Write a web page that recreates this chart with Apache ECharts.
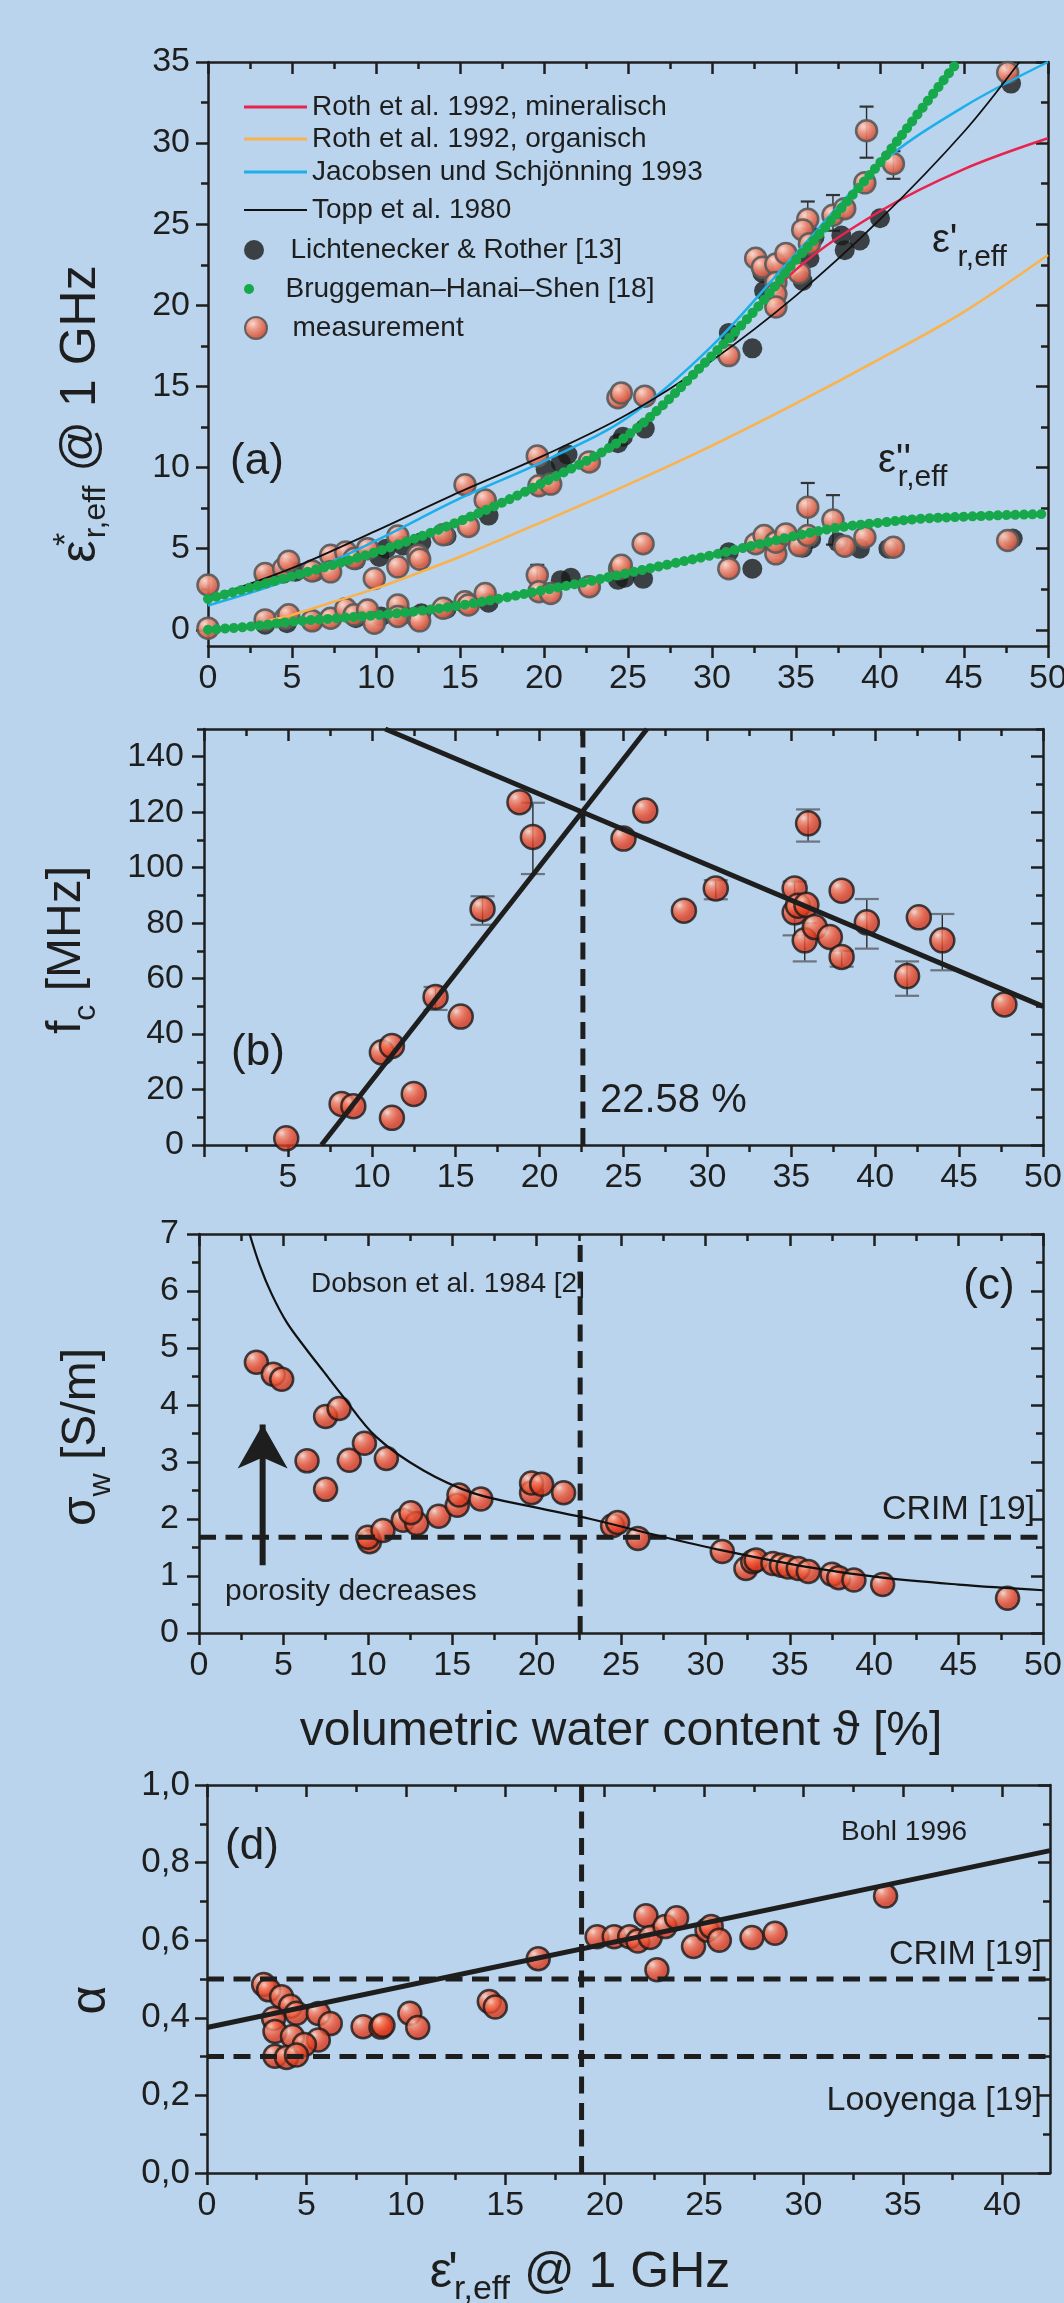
<!DOCTYPE html>
<html><head><meta charset="utf-8">
<script src="https://cdn.jsdelivr.net/npm/echarts@6/dist/echarts.min.js"></script>
<style>html,body{margin:0;padding:0;background:#b9d4ec;}#c{width:1064px;height:2303px;}</style>
</head><body><div id="c"></div>
<script>
// ---------------- panel (a) data ----------------
const aXTickLabels = [0,5,10,15,20,25,30,35,40,45,50];
const aXMinorTicks = [2.5,7.5,12.5,17.5,22.5,27.5,32.5,37.5,42.5,47.5];
const aYTickLabels = [0,5,10,15,20,25,30,35];
const aYMinorTicks = [2.5,7.5,12.5,17.5,22.5,27.5,32.5];

const rothMineral = [[0,1.8],[5,3.2],[10,4.8],[15,6.7],[20,9.2],[25,11.9],[30,16.8],[35,22.2],[40,25.8],[45,28.4],[50,30.3]];
const rothOrganic = [[3.5,0.55],[5,0.92],[7.5,1.73],[10,2.55],[12.5,3.5],[15,4.5],[20,6.7],[25,8.95],[30,11.35],[35,13.95],[40,16.7],[45,19.6],[50,23.1]];
const jacobsen = [[0,1.5],[5,3.15],[10,5.5],[15,8.1],[20,10.4],[25,13.1],[30,17.5],[35,23.2],[40,28.7],[45,32.25],[50,35.0]];
const topp = [[0,1.95],[5,3.8],[10,6.1],[15,8.5],[20,10.75],[25,13.3],[30,16.6],[35,20.6],[40,25.3],[45,30.7],[48.3,35]];
const bhsReal = [[0,1.9],[5,3.3],[10,4.8],[15,6.7],[20,9.1],[25,12.0],[30,16.9],[32.9,20.1],[35,22.8],[36.4,24.4],[38.4,26.85],[40.4,29.3],[42.4,32.0],[44.5,34.85]];
const bhsImag = [[0,0],[2.5,0.2],[5,0.5],[7.5,0.7],[10,0.9],[12.5,1.15],[15,1.5],[17.5,1.95],[20,2.45],[22.5,2.95],[25,3.5],[27.5,4.05],[30,4.6],[32.5,5.2],[35,5.8],[37.5,6.3],[40,6.6],[42.5,6.85],[45,6.97],[47.5,7.07],[50,7.14]];

const lrReal = [[3.4,3.16],[4.5,3.47],[5.2,3.57],[6.35,3.57],[8.8,4.29],[10.2,4.49],[10.6,5.0],[11.6,5.2],[12.7,5.4],[14.2,5.78],[16.7,7.04],[20.1,9.9],[21.0,10.3],[21.4,10.8],[24.4,11.5],[24.7,11.9],[26.0,12.4],[31.0,18.3],[32.4,17.35],[33.0,22.0],[33.1,20.9],[35.4,21.5],[35.8,22.9],[36.1,24.2],[37.7,24.3],[37.9,23.4],[38.8,24.0],[40.0,25.37],[47.8,33.67]];
const lrImag = [[3.4,0.31],[4.7,0.41],[6.25,0.51],[8.8,0.71],[10.3,0.82],[11.6,0.92],[12.7,1.02],[14.2,1.29],[15.4,1.53],[16.7,1.67],[21.0,3.06],[21.6,3.2],[24.4,3.08],[24.8,3.2],[25.9,3.14],[31.0,4.78],[32.4,3.76],[33.2,5.6],[33.8,5.1],[35.4,5.05],[35.9,5.6],[37.5,5.4],[38.8,5.0],[40.5,5.0],[47.9,5.63]];

const measReal = [[0,2.76],[3.4,3.47],[4.5,3.78],[4.8,4.22],[6.2,3.63],[7.3,4.59],[7.3,3.57],[8.2,4.8],[8.7,4.39],[9.5,5.0],[9.9,3.16],[11.3,5.78],[11.3,3.88],[12.5,4.59],[12.6,4.35],[14.0,5.86],[15.3,8.94],[15.5,6.37],[16.5,8.0],[19.6,10.71],[19.7,8.88],[20.4,8.98],[22.7,10.35],[24.4,14.3],[24.6,14.6],[26.0,14.4],[31.0,16.9],[32.6,22.9],[33.0,22.35],[33.8,22.55],[34.4,23.2],[35.2,22.0],[33.8,21.4],[33.8,20.7],[33.8,19.9],[35.7,25.3],[35.4,24.65],[35.8,23.8],[37.2,25.55],[37.9,25.96],[39.1,27.55],[39.2,30.76],[40.8,28.73],[47.6,34.35]];
const measImag = [[0,0.1],[3.4,0.61],[4.6,0.71],[4.8,0.92],[6.2,0.55],[7.3,0.71],[8.2,1.29],[8.7,0.92],[9.5,1.22],[9.9,0.41],[11.3,1.53],[11.3,0.82],[12.5,0.71],[12.6,0.55],[14.0,1.33],[15.3,1.73],[15.5,1.53],[16.5,2.24],[19.6,3.37],[19.7,2.35],[20.4,2.24],[22.7,2.65],[24.5,3.78],[24.6,3.98],[25.9,5.3],[31.0,3.76],[32.6,5.3],[33.1,5.81],[33.8,4.68],[33.8,5.4],[34.4,5.91],[35.2,5.19],[35.7,7.55],[35.7,5.81],[37.2,6.77],[37.9,5.15],[39.1,5.7],[40.8,5.09],[47.6,5.5]];
const measRealErr = [[39.2,29.1,32.25],[40.8,27.8,29.5],[35.7,24.3,26.4],[37.2,24.6,26.8]];
const measImagErr = [[35.7,6.05,9.05],[37.2,5.25,8.3],[19.6,2.75,4.0]];

// ---------------- panel (b) data ----------------
const bXTickLabels = [5,10,15,20,25,30,35,40,45,50];
const bXMajorTicks = [0,5,10,15,20,25,30,35,40,45,50];
const bXMinorTicks = [2.5,7.5,12.5,17.5,22.5,27.5,32.5,37.5,42.5,47.5];
const bYTickLabels = [0,20,40,60,80,100,120,140];
const bYMinorTicks = [10,30,50,70,90,110,130,150];
const fcPoints = [[4.9,2.4],[8.2,14.8],[8.9,14.0],[11.2,9.8],[10.6,33.4],[11.2,35.7],[12.5,18.4],[13.8,53.4],[15.3,46.3],[16.6,85.1],[18.8,123.6],[19.6,111.1],[25.0,110.5],[26.3,120.6],[28.6,84.5],[30.5,92.5],[35.2,92.5],[35.2,83.9],[35.4,86.3],[35.9,86.6],[35.8,73.8],[36.0,116.0],[36.4,78.6],[37.3,75.0],[38.0,91.7],[38.0,67.8],[39.5,80.3],[41.9,60.9],[42.6,82.1],[44.0,73.8],[47.7,50.7]];
const fcErr = [[13.8,48.7,57.0],[16.6,79.4,89.7],[19.6,97.7,123.4],[30.5,88.6,95.5],[35.2,75.6,95.0],[35.8,66.2,80.0],[36.0,109.4,121.0],[38.0,64.3,70.0],[39.5,70.8,88.7],[41.9,53.8,66.2],[44.0,63.0,83.3]];
const fcRiseFit = [[7.0,0],[26.4,150]];
const fcFallFit = [[10.8,150],[50,50]];
const fcBreak = 22.58;

// ---------------- panel (c) data ----------------
const cXTickLabels = [0,5,10,15,20,25,30,35,40,45,50];
const cXMinorTicks = [2.5,7.5,12.5,17.5,22.5,27.5,32.5,37.5,42.5,47.5];
const cYTickLabels = [0,1,2,3,4,5,6,7];
const cYMinorTicks = [0.5,1.5,2.5,3.5,4.5,5.5,6.5];
const sigmaPoints = [[3.4,4.75],[4.4,4.54],[4.9,4.45],[6.4,3.02],[7.5,2.52],[7.5,3.8],[8.3,3.94],[8.9,3.03],[9.8,3.33],[10.1,1.6],[10.0,1.68],[11.1,3.06],[10.9,1.8],[12.1,1.98],[12.9,1.92],[12.55,2.11],[14.2,2.05],[15.3,2.24],[15.4,2.42],[16.7,2.35],[19.7,2.46],[19.7,2.63],[20.3,2.61],[21.6,2.46],[24.5,1.88],[24.8,1.94],[26.0,1.66],[31.0,1.43],[32.4,1.13],[32.8,1.25],[33.0,1.28],[34.0,1.22],[34.5,1.19],[34.9,1.16],[35.5,1.13],[36.1,1.08],[37.5,1.03],[37.9,0.97],[38.8,0.93],[40.5,0.85],[47.9,0.61]];
const dobson = [[3.0,7.0],[3.6,6.45],[4.3,5.95],[5.2,5.45],[6.3,5.0],[7.4,4.58],[8.4,4.2],[10.5,3.44],[13.3,2.85],[16.3,2.45],[20.0,2.2],[23.2,2.0],[27.3,1.7],[31.0,1.45],[36.0,1.16],[40.5,0.97],[45.0,0.85],[50.0,0.75]];
const crimSigma = 1.68;
const porosityArrow = [[3.77,1.19],[3.77,3.66]];

// ---------------- panel (d) data ----------------
const dXTickLabels = [0,5,10,15,20,25,30,35,40];
const dXMinorTicks = [2.5,7.5,12.5,17.5,22.5,27.5,32.5,37.5];
const dYTickLabels = [0,0.2,0.4,0.6,0.8,1.0];
const dYMinorTicks = [0.1,0.3,0.5,0.7,0.9];
const alphaPoints = [[2.85,0.486],[3.1,0.472],[3.75,0.454],[4.2,0.43],[4.5,0.412],[3.35,0.398],[3.42,0.365],[4.3,0.352],[5.6,0.411],[6.2,0.385],[5.6,0.343],[4.9,0.331],[3.42,0.301],[4.0,0.298],[4.5,0.304],[7.85,0.377],[8.75,0.376],[8.85,0.381],[10.2,0.412],[10.6,0.375],[14.2,0.442],[14.5,0.428],[16.66,0.552],[19.62,0.609],[20.48,0.609],[21.26,0.609],[21.67,0.598],[22.08,0.663],[22.29,0.607],[22.63,0.524],[23.04,0.635],[23.62,0.658],[24.47,0.584],[25.15,0.626],[25.36,0.635],[25.77,0.6],[27.41,0.607],[28.57,0.618],[34.13,0.714]];
const bohl = [[0,0.375],[42.4,0.831]];
const crimAlpha = 0.5;
const looyengaAlpha = 0.3;
const dBreak = 18.84;

// ---------------- styling ----------------
const FONT = '"Liberation Sans", Arial, Helvetica, sans-serif';
const INK = '#1e1e1e';
const BG = '#b9d4ec';
const DASH = [17, 9.5];

const grids = [
  {left:208, top:62, width:840, height:584},
  {left:204, top:729, width:839, height:416},
  {left:199, top:1234, width:844, height:399},
  {left:207, top:1785, width:843, height:388}
].map(g => Object.assign({outerBoundsMode:'none', containLabel:false}, g));

function axesFor(dim, grid, min, max, labels, major, minor, fmt, fs, margin) {
  const pos = dim === 'x' ? ['bottom','top'] : ['left','right'];
  const base = {type:'value', gridIndex:grid, min, max, splitLine:{show:false}, axisPointer:{show:false}, silent:true};
  const ts = {color:INK, width:2.5};
  const line = {show:true, onZero:false, lineStyle:ts};
  const noLine = {show:false, onZero:false};
  return [
    Object.assign({}, base, {position:pos[0], axisLine:line,
      axisTick:{show:true, customValues:major, length:12, inside:false, lineStyle:ts},
      axisLabel:{show:true, customValues:labels, formatter:fmt, fontSize:fs, color:INK, margin, fontFamily:FONT}}),
    Object.assign({}, base, {position:pos[0], axisLine:noLine,
      axisTick:{show:true, customValues:minor, length:7, inside:false, lineStyle:ts}, axisLabel:{show:false}}),
    Object.assign({}, base, {position:pos[1], axisLine:line,
      axisTick:{show:true, customValues:major, length:12, inside:true, lineStyle:ts}, axisLabel:{show:false}}),
    Object.assign({}, base, {position:pos[1], axisLine:noLine,
      axisTick:{show:true, customValues:minor, length:7, inside:true, lineStyle:ts}, axisLabel:{show:false}})
  ];
}
const commaFmt = v => v.toFixed(1).replace('.', ',');
const xAxes = [].concat(
  axesFor('x',0,0,50,aXTickLabels,aXTickLabels,aXMinorTicks,null,34,16),
  axesFor('x',1,0,50,bXTickLabels,bXMajorTicks,bXMinorTicks,null,34,16),
  axesFor('x',2,0,50,cXTickLabels,cXTickLabels,cXMinorTicks,null,34,16),
  axesFor('x',3,0,42.4,dXTickLabels,dXTickLabels,dXMinorTicks,null,34,16)
);
const yAxes = [].concat(
  axesFor('y',0,-1,35,aYTickLabels,aYTickLabels,aYMinorTicks,null,34,18),
  axesFor('y',1,0,150,bYTickLabels,bYTickLabels,bYMinorTicks,null,34,20),
  axesFor('y',2,0,7,cYTickLabels,cYTickLabels,cYMinorTicks,null,34,20),
  axesFor('y',3,0,1,dYTickLabels,dYTickLabels,dYMinorTicks,commaFmt,35,17)
);

const measGrad = {type:'radial', x:0.36, y:0.32, r:0.6, colorStops:[{offset:0,color:'#fcd8cd'},{offset:0.45,color:'#ee907a'},{offset:1,color:'#d5563f'}]};
const dotGrad = {type:'radial', x:0.33, y:0.3, r:0.55, colorStops:[{offset:0,color:'#fdd8cc'},{offset:0.3,color:'#f6866a'},{offset:0.65,color:'#ef5232'},{offset:1,color:'#d8381e'}]};

function ax(g){ return {xAxisIndex:4*g, yAxisIndex:4*g}; }
function lineS(g, name, data, color, width, extra) {
  return Object.assign({type:'line', name, data, showSymbol:false, symbol:'none', smooth:0.35,
    lineStyle:{color, width}, itemStyle:{color}, silent:true, animation:false}, ax(g), extra || {});
}
function straight(g, data, width, dashed, extra) {
  return Object.assign({type:'line', data, showSymbol:false, symbol:'none',
    lineStyle:{color:INK, width, type: dashed ? DASH : 'solid'}, silent:true, animation:false}, ax(g), extra || {});
}
function scat(g, name, data, size, itemStyle) {
  return Object.assign({type:'scatter', name, data, symbolSize:size, itemStyle, silent:true, animation:false}, ax(g));
}
function errS(g, data, hw, capColor) {
  return Object.assign({type:'custom', data, encode:{x:0, y:[1,2]}, silent:true, animation:false,
    renderItem: function (params, api) {
      const x = api.value(0), lo = api.coord([x, api.value(1)]), hi = api.coord([x, api.value(2)]);
      const st = {stroke:'#2a2a2a', lineWidth:1.4};
      const cs = {stroke:capColor, lineWidth:2.2};
      return {type:'group', children:[
        {type:'line', shape:{x1:lo[0], y1:lo[1], x2:hi[0], y2:hi[1]}, style:st},
        {type:'line', shape:{x1:lo[0]-hw, y1:lo[1], x2:lo[0]+hw, y2:lo[1]}, style:cs},
        {type:'line', shape:{x1:hi[0]-hw, y1:hi[1], x2:hi[0]+hw, y2:hi[1]}, style:cs}
      ]};
    }}, ax(g));
}

const N_RM = 'Roth et al. 1992, mineralisch';
const N_RO = 'Roth et al. 1992, organisch';
const N_JS = 'Jacobsen und Schjönning 1993';
const N_TO = 'Topp et al. 1980';
const N_LR = 'Lichtenecker & Rother [13]';
const N_BH = 'Bruggeman–Hanai–Shen [18]';
const N_ME = 'measurement';

const bhsStyle = {color:'#16a84a', width:10, type:[0.1, 8.5], cap:'round'};
const measStyle = {color:measGrad, borderColor:'#5a5a5a', borderWidth:2.5, opacity:0.92};
const dotStyle = {color:dotGrad, borderColor:'#1a1a1a', borderWidth:2.5};

const series = [
  // (a)
  lineS(0, N_RO, rothOrganic, '#fbb24c', 2.5),
  lineS(0, N_RM, rothMineral, '#e8234f', 2.5),
  lineS(0, N_JS, jacobsen, '#1cb0ea', 2.5),
  lineS(0, N_TO, topp, '#111111', 1.8),
  Object.assign({type:'line', name:N_BH, data:bhsReal, showSymbol:false, symbol:'none', smooth:0.35, lineStyle:bhsStyle, itemStyle:{color:'#16a84a'}, silent:true, animation:false}, ax(0)),
  Object.assign({type:'line', name:N_BH, data:bhsImag, showSymbol:false, symbol:'none', smooth:0.35, lineStyle:bhsStyle, itemStyle:{color:'#16a84a'}, silent:true, animation:false}, ax(0)),
  scat(0, N_LR, lrReal, 20, {color:'#1a1a1a'}),
  scat(0, N_LR, lrImag, 20, {color:'#1a1a1a'}),
  errS(0, measRealErr, 7, '#333'),
  errS(0, measImagErr, 7, '#333'),
  scat(0, N_ME, measReal, 21, measStyle),
  scat(0, N_ME, measImag, 21, measStyle),
  // (b)
  straight(1, [[fcBreak,0],[fcBreak,150]], 5, true),
  straight(1, fcRiseFit, 5, false),
  straight(1, fcFallFit, 5, false),
  errS(1, fcErr, 12, '#6b7480'),
  scat(1, 'fc', fcPoints, 24, dotStyle),
  // (c)
  straight(2, [[fcBreak,0],[fcBreak,7]], 5, true),
  straight(2, [[0,crimSigma],[50,crimSigma]], 5, true),
  lineS(2, 'Dobson', dobson, '#111111', 2.2),
  Object.assign({type:'line', data:[{value:porosityArrow[0], symbol:'none'}, {value:porosityArrow[1], symbol:'arrow', symbolSize:[37.5,44]}],
    showSymbol:true, lineStyle:{color:INK, width:6}, itemStyle:{color:INK}, silent:true, animation:false}, ax(2)),
  scat(2, 'sigma', sigmaPoints, 23, dotStyle),
  // (d)
  straight(3, [[dBreak,0],[dBreak,1]], 5, true),
  straight(3, [[0,crimAlpha],[42.4,crimAlpha]], 5, true),
  straight(3, [[0,looyengaAlpha],[42.4,looyengaAlpha]], 5, true),
  straight(3, bohl, 5, false),
  scat(3, 'alpha', alphaPoints, 23, dotStyle)
];

const legendItems = [
  {name:N_RM, icon:'rect', h:3, top:92},
  {name:N_RO, icon:'rect', h:3, top:124},
  {name:N_JS, icon:'rect', h:3, top:157},
  {name:N_TO, icon:'rect', h:2, top:195},
  {name:N_LR, icon:'circle', h:20, top:235},
  {name:N_BH, icon:'circle', h:10, top:274},
  {name:N_ME, icon:'circle', h:22, top:313}
];
const legends = legendItems.map(it => ({
  show:true, left:244, top:it.top, padding:0, itemGap:0, itemWidth:63, itemHeight:it.h,
  selectedMode:false, data:[{name:it.name, icon:it.icon}],
  textStyle:{fontSize:28, color:INK, fontFamily:FONT, lineHeight:30}
}));

function txt(x, y, text, fs, align, extra) {
  return Object.assign({type:'text', x, y, silent:true,
    style:{text, fontSize:fs, fontFamily:FONT, fill:INK, align:align || 'left', verticalAlign:'middle'}}, extra || {});
}
function rtxt(x, y, text, rich, align, rotation) {
  return {type:'text', x, y, rotation: rotation || 0, silent:true,
    style:{text, rich, fontFamily:FONT, fill:INK, align:align || 'left', verticalAlign:'middle'}};
}
const R = (fs, lh, va, w) => { const o = {fontSize:fs, lineHeight:lh, fontFamily:FONT, fill:INK}; if (va) o.verticalAlign = va; if (w !== undefined) o.width = w; return o; };

const graphics = [
  // (a)
  txt(257, 462, '(a)', 44, 'center'),
  rtxt(932, 241, '{e|ε\'}{s|r,eff}', {e:R(40,64), s:R(30,30,'bottom')}),
  rtxt(878, 461, '{e|ε}{p|\'\'}{s|r,eff}', {e:R(40,64), p:R(40,64,null,2), s:R(30,30,'bottom')}),
  rtxt(81, 414, '{e|ε}{p|*}{s|r,eff}{m| @ 1 GHz}', {e:R(50,62), p:R(34,34,'top',2), s:R(32,32,'bottom'), m:R(50,62)}, 'center', Math.PI/2),
  // (b)
  txt(258, 1053, '(b)', 44, 'center'),
  txt(600, 1101, '22.58 %', 40, 'left'),
  rtxt(67, 950, '{m|f}{s|c}{m| [MHz]}', {m:R(48,70), s:R(32,32,'bottom')}, 'center', Math.PI/2),
  // (c)
  txt(311, 1284, 'Dobson et al. 1984 [2]', 28, 'left'),
  txt(989, 1287, '(c)', 44, 'center'),
  txt(1035, 1510, 'CRIM [19]', 34, 'right'),
  txt(225, 1592, 'porosity decreases', 30, 'left'),
  rtxt(82, 1437, '{m|σ}{s|w}{m| [S/m]}', {m:R(48,70), s:R(32,32,'bottom')}, 'center', Math.PI/2),
  txt(621, 1732, 'volumetric water content ϑ [%]', 48, 'center'),
  // (d)
  txt(252, 1847, '(d)', 44, 'center'),
  txt(841, 1832, 'Bohl 1996', 28, 'left'),
  txt(1042, 1955, 'CRIM [19]', 34, 'right'),
  txt(1042, 2101, 'Looyenga [19]', 34, 'right'),
  txt(91, 2000, 'α', 50, 'center', {rotation:Math.PI/2}),
  rtxt(580, 2273, '{e|ε}{p|\'}{s|r,eff}{m| @ 1 GHz}', {e:R(50,68), p:R(50,68,null,2), s:R(34,34,'bottom'), m:R(50,68)}, 'center')
];

const chart = echarts.init(document.getElementById('c'), null, {renderer:'canvas', width:1064, height:2303});
chart.setOption({
  backgroundColor: BG,
  animation: false,
  textStyle: {fontFamily: FONT, color: INK},
  grid: grids,
  xAxis: xAxes,
  yAxis: yAxes,
  legend: legends,
  series: series,
  graphic: graphics
});
</script></body></html>
